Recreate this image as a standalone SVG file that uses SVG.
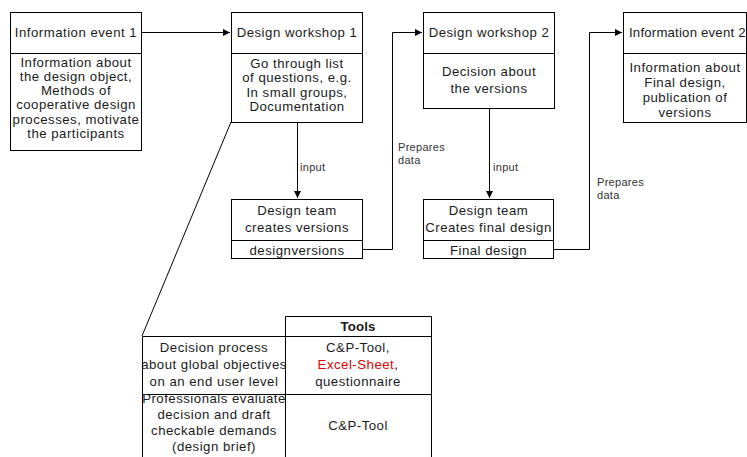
<svg xmlns="http://www.w3.org/2000/svg" width="747" height="457" viewBox="0 0 747 457">
<defs>
<marker id="ah" markerWidth="8" markerHeight="8" refX="7" refY="4" orient="auto" markerUnits="userSpaceOnUse">
<path d="M0,0.5 L7,4 L0,7.5 Z" fill="#000"/>
</marker>
<style>
.b{fill:#fff;stroke:#000;stroke-width:1}
.l{fill:none;stroke:#000;stroke-width:1}
.t{font-family:"Liberation Sans",Arial,sans-serif;font-size:13.2px;letter-spacing:0.5px;fill:#1a1a1a;text-anchor:middle}
.s{font-family:"Liberation Sans",Arial,sans-serif;font-size:11px;letter-spacing:0.3px;fill:#333}
.tb{font-weight:bold;letter-spacing:0.2px}
</style>
</defs>
<rect width="747" height="457" fill="#fff"/>
<g id="connectors">
<path class="l" d="M141,32.5 H230" marker-end="url(#ah)"/>
<path class="l" d="M362,249.5 H392.5 V32.5 H422" marker-end="url(#ah)"/>
<path class="l" d="M553,249.5 H589.5 V32.5 H622" marker-end="url(#ah)"/>
<path class="l" d="M297.5,122 V198" marker-end="url(#ah)"/>
<path class="l" d="M489.5,108 V198" marker-end="url(#ah)"/>
<path class="l" d="M231,122 L142,336"/>
<text class="s" x="300" y="171">input</text>
<text class="s" x="493" y="171">input</text>
<text class="s" x="398" y="151">Prepares</text>
<text class="s" x="398" y="164">data</text>
<text class="s" x="597" y="186">Prepares</text>
<text class="s" x="597" y="199">data</text>
</g>
<g id="info-event-1">
<rect class="b" x="10.5" y="12.5" width="131" height="138"/>
<path class="l" d="M10.5,53.5 H141.5"/>
<text class="t" x="76" y="37">Information event 1</text>
<text class="t" x="76" y="66.5">Information about</text>
<text class="t" x="76" y="80.8">the design object,</text>
<text class="t" x="76" y="95.1">Methods of</text>
<text class="t" x="76" y="109.4">cooperative design</text>
<text class="t" x="76" y="123.7">processes, motivate</text>
<text class="t" x="76" y="138">the participants</text>
</g>
<g id="design-workshop-1">
<rect class="b" x="231.5" y="12.5" width="131" height="110"/>
<path class="l" d="M231.5,53.5 H362.5"/>
<text class="t" x="297" y="37">Design workshop 1</text>
<text class="t" x="297" y="67.5">Go through list</text>
<text class="t" x="297" y="82">of questions, e.g.</text>
<text class="t" x="297" y="96.5">In small groups,</text>
<text class="t" x="297" y="111">Documentation</text>
</g>
<g id="design-workshop-2">
<rect class="b" x="423.5" y="12.5" width="131" height="96"/>
<path class="l" d="M423.5,53.5 H554.5"/>
<text class="t" x="489" y="37">Design workshop 2</text>
<text class="t" x="489" y="76">Decision about</text>
<text class="t" x="489" y="93">the versions</text>
</g>
<g id="info-event-2">
<rect class="b" x="623.5" y="12.5" width="123" height="110"/>
<path class="l" d="M623.5,53.5 H746.5"/>
<text class="t" x="629" y="37" style="text-anchor:start;letter-spacing:0.2px">Information event 2</text>
<text class="t" x="685" y="71.5">Information about</text>
<text class="t" x="685" y="86.5">Final design,</text>
<text class="t" x="685" y="101.5">publication of</text>
<text class="t" x="685" y="116.5">versions</text>
</g>
<g id="design-team-1">
<rect class="b" x="231.5" y="199.5" width="131" height="59"/>
<path class="l" d="M231.5,240.5 H362.5"/>
<text class="t" x="297" y="214.5">Design team</text>
<text class="t" x="297" y="231.5">creates versions</text>
<text class="t" x="297" y="254.5">designversions</text>
</g>
<g id="design-team-2">
<rect class="b" x="423.5" y="199.5" width="130" height="59"/>
<path class="l" d="M423.5,240.5 H553.5"/>
<text class="t" x="488.5" y="214.5">Design team</text>
<text class="t" x="488.5" y="231.5">Creates final design</text>
<text class="t" x="488.5" y="254.5">Final design</text>
</g>
<g id="tools-table">
<path class="l" d="M285.5,316.5 H431.5 V460 M285.5,316.5 V460 M142.5,336.5 H431.5 M142.5,336.5 V460 M142.5,394.5 H431.5"/>
<text class="t tb" x="358" y="330.5">Tools</text>
<text class="t" x="214" y="351.5">Decision process</text>
<text class="t" x="214" y="368.5">about global objectives</text>
<text class="t" x="214" y="385.5">on an end user level</text>
<text class="t" x="358" y="351.5">C&amp;P-Tool,</text>
<text class="t" x="358" y="368.5"><tspan fill="#e00000">Excel-Sheet</tspan>,</text>
<text class="t" x="358" y="385.5">questionnaire</text>
<text class="t" x="214" y="402.5">Professionals evaluate</text>
<text class="t" x="214" y="418.5">decision and draft</text>
<text class="t" x="214" y="434.5">checkable demands</text>
<text class="t" x="214" y="450.5">(design brief)</text>
<text class="t" x="358" y="430">C&amp;P-Tool</text>
</g>
</svg>
